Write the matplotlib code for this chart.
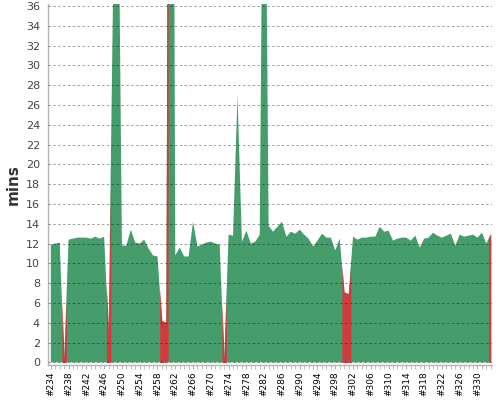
#!/usr/bin/env python3

import numpy as np
import matplotlib
matplotlib.use('Agg')
import matplotlib.pyplot as plt


#------------------------------------------------------------------------------
# Data: build number, duration in minutes, failed flag
#------------------------------------------------------------------------------

builds = [
    234, 235, 236, 237, 238, 239, 240, 241, 242, 243,
    244, 245, 246, 247, 248, 249, 250, 251, 252, 253,
    254, 255, 256, 257, 258, 259, 260, 261, 262, 263,
    264, 265, 266, 267, 268, 269, 270, 271, 272, 273,
    274, 275, 276, 277, 278, 279, 280, 281, 282, 283,
    284, 285, 286, 287, 288, 289, 290, 291, 292, 293,
    294, 295, 296, 297, 298, 299, 300, 301, 302, 303,
    304, 305, 306, 307, 308, 309, 310, 311, 312, 313,
    314, 315, 316, 317, 318, 319, 320, 321, 322, 323,
    324, 325, 326, 327, 328, 329, 330, 331, 332, 333,
]

durations = [
    11.9, 12.0, 12.1, 0.3, 12.4, 12.5, 12.6, 12.6, 12.6, 12.5,
    12.7, 12.5, 12.7, 3.0, 37.0, 60.0, 11.8, 11.8, 13.4, 12.1,
    12.0, 12.4, 11.5, 10.8, 10.7, 4.2, 4.0, 150.0, 10.8, 11.6,
    10.7, 10.7, 14.2, 11.7, 11.9, 12.1, 12.2, 12.0, 11.9, 0.3,
    12.9, 12.8, 27.0, 12.2, 13.3, 12.0, 12.2, 12.9, 70.0, 13.8,
    13.2, 13.7, 14.2, 12.7, 13.2, 13.0, 13.4, 12.9, 12.5, 11.7,
    12.3, 13.0, 12.6, 12.6, 11.3, 12.5, 7.1, 6.9, 12.7, 12.4,
    12.6, 12.6, 12.7, 12.7, 13.7, 13.2, 13.3, 12.3, 12.5, 12.6,
    12.6, 12.3, 12.8, 11.6, 12.5, 12.6, 13.1, 12.8, 12.6, 12.8,
    13.0, 11.8, 12.9, 12.7, 12.8, 12.9, 12.6, 13.1, 12.0, 13.0,
]

failed_builds = [237, 247, 259, 260, 273, 300, 301, 333]

GREEN = '#449d6b'
RED = '#d8373b'


def plot_build_times():
    x = np.array(builds, dtype=float)
    y = np.array(durations)

    fig = plt.figure(figsize=(5, 4), dpi=100)
    ax = fig.add_axes([0.0954, 0.08875, 0.8876, 0.901])

    # whole trend in green, failed builds painted over in red (half a build each side)
    ax.fill_between(x, 0, y, color=GREEN, linewidth=0)
    for b in failed_builds:
        xs = np.array([b - 0.5, b, b + 0.5])
        xs = np.clip(xs, x[0], x[-1])
        ax.fill_between(xs, 0, np.interp(xs, x, y), color=RED, linewidth=0)

    ax.set_xlim(233.3, 333.15)
    ax.set_ylim(-0.22, 36.2)

    ax.set_yticks(np.arange(0, 37, 2))
    ax.set_xticks(builds[::4])
    ax.set_xticklabels(['#%d' % b for b in builds[::4]], rotation=90)
    ax.set_xticks(builds, minor=True)

    ax.yaxis.grid(True, linestyle=(0, (2.5, 2.5)), color='black', alpha=0.38, linewidth=0.7)
    ax.set_axisbelow(False)

    for side in ['top', 'right']:
        ax.spines[side].set_visible(False)
    for side in ['left', 'bottom']:
        ax.spines[side].set_color('#b4b4b4')
        ax.spines[side].set_linewidth(1.0)

    ax.tick_params(axis='x', which='both', length=3, color='#b4b4b4', pad=2, labelsize=6.5, labelcolor='black')
    ax.tick_params(axis='y', length=0, pad=5.5, labelsize=8, labelcolor='#444444')

    ax.set_ylabel('mins', fontsize=11, fontweight='bold', color='#333333', labelpad=4)

    plt.savefig('out.png')
    plt.close()


if __name__ == '__main__':
    plot_build_times()
